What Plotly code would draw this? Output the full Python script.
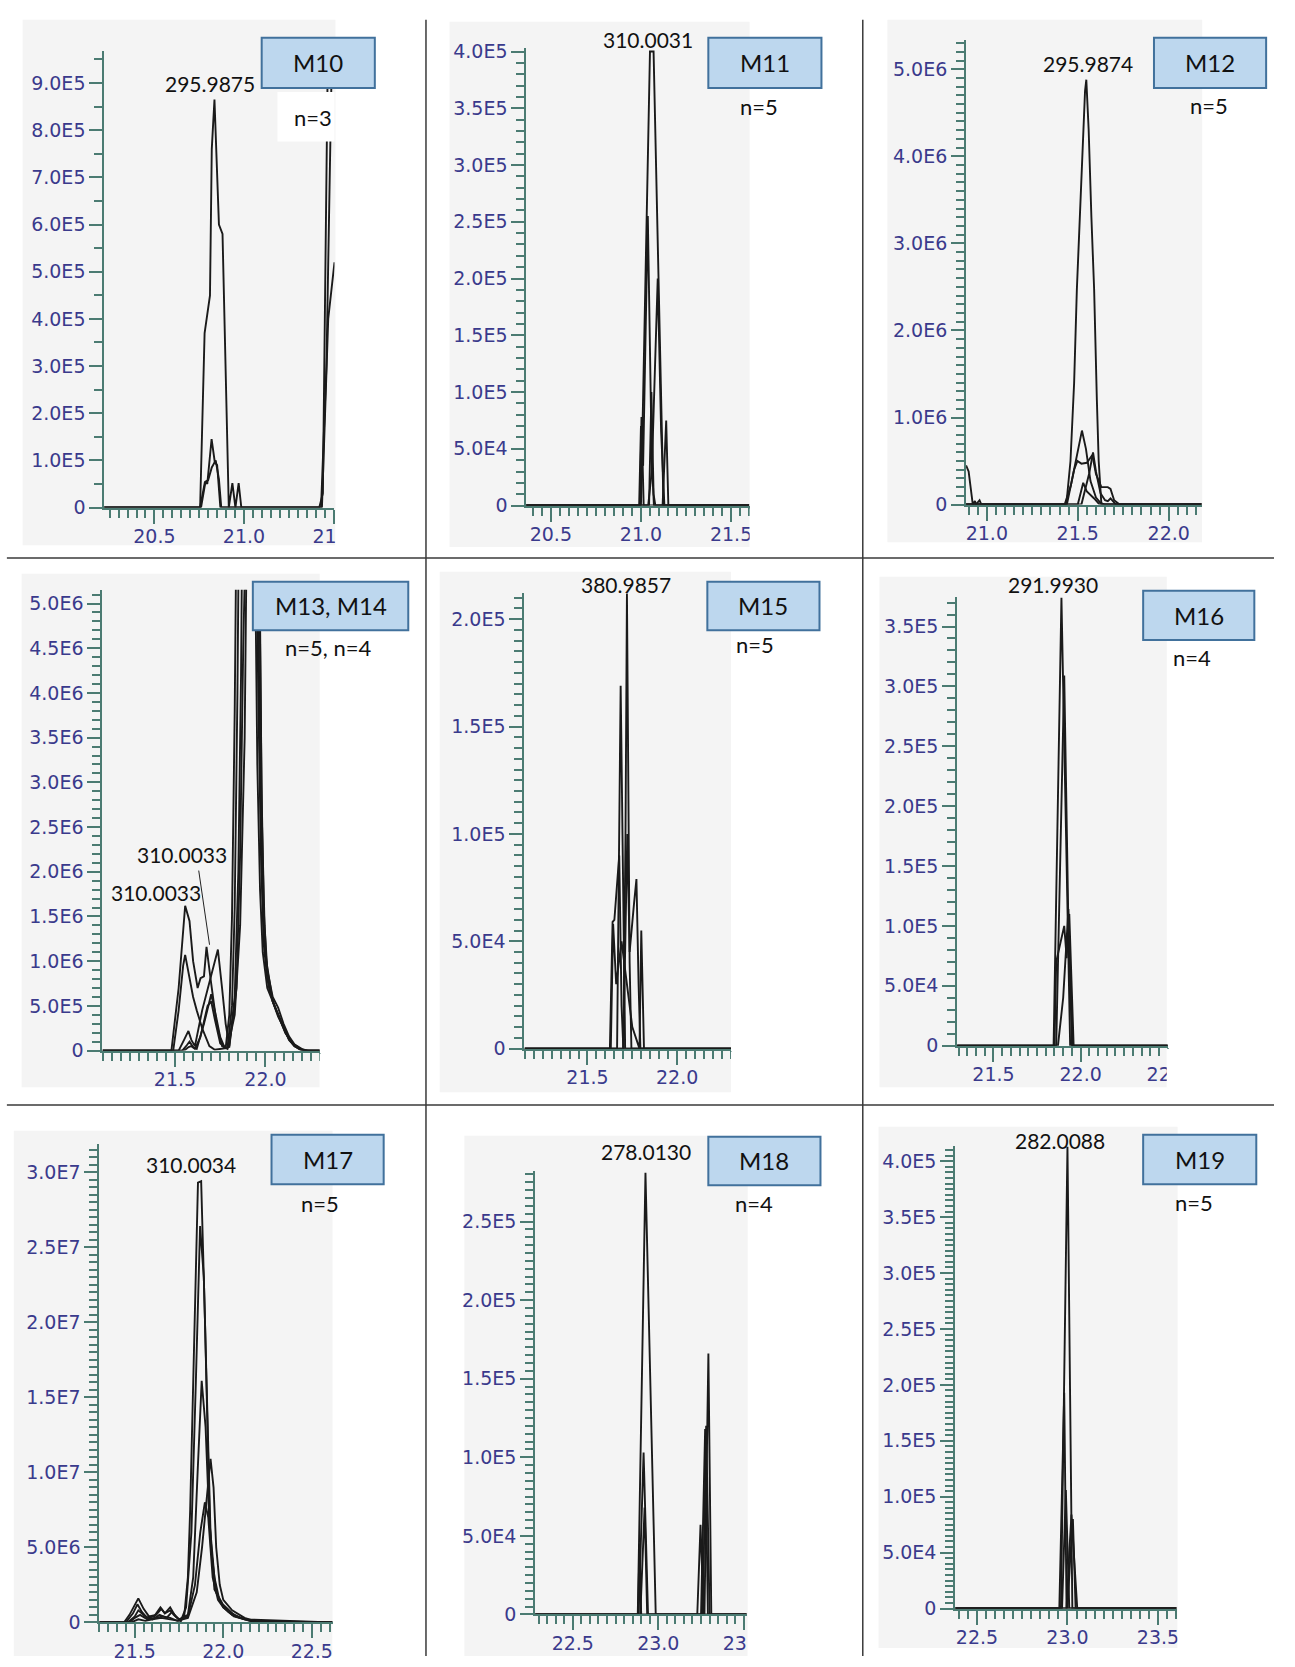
import plotly.graph_objects as go

W, H = 1295, 1667

# ======================= DATA =======================
# ---- M10 (n=3) ----
M10_RT = [
    [20.20, 20.755, 20.78, 20.81, 20.82, 20.835, 20.86, 20.88, 20.915, 20.935, 20.952, 20.97, 20.985, 21.42, 21.44, 21.475],
    [20.20, 20.755, 20.782, 20.795, 20.819, 20.837, 20.85, 20.868, 21.43, 21.46, 21.49, 21.505],
    [20.20, 20.76, 20.785, 20.80, 20.82, 20.842, 20.86, 20.873, 21.435, 21.47, 21.505],
]
M10_INT = [
    [0, 0, 3.7e5, 4.5e5, 7.6e5, 8.65e5, 6.0e5, 5.8e5, 0, 0.52e5, 0, 0.52e5, 0, 0, 0.3e5, 1.2e6],
    [0, 0, 0.55e5, 0.5e5, 1.45e5, 0.96e5, 0.9e5, 0, 0, 3.0e5, 9.5e5, 1.05e6],
    [0, 0, 0.55e5, 0.58e5, 0.85e5, 1.0e5, 0.6e5, 0, 0, 4.0e5, 5.2e5],
]
M10_XTICKS = [20.5, 21.0, 21.5]
M10_XLABELS = ["20.5", "21.0", "21.5"]
M10_YTICKS = [0, 1e5, 2e5, 3e5, 4e5, 5e5, 6e5, 7e5, 8e5, 9e5]
M10_YLABELS = ["0", "1.0E5", "2.0E5", "3.0E5", "4.0E5", "5.0E5", "6.0E5", "7.0E5", "8.0E5", "9.0E5"]

# ---- M11 (n=5) ----
M11_RT = [
    [20.36, 21.0, 21.05, 21.07, 21.125, 21.6],
    [20.36, 20.99, 21.0, 21.012, 21.038, 21.06, 21.072, 21.6],
    [20.36, 21.04, 21.06, 21.093, 21.112, 21.13, 21.6],
    [20.36, 20.995, 21.003, 21.015, 21.045, 21.058, 21.07, 21.08, 21.6],
    [20.36, 21.12, 21.14, 21.152, 21.6],
]
M11_INT = [
    [0, 0, 4.0e5, 4.0e5, 0, 0],
    [0, 0, 0.7e5, 0.35e5, 2.55e5, 0.4e5, 0, 0],
    [0, 0, 0.3e5, 2.0e5, 0.65e5, 0, 0],
    [0, 0, 0.78e5, 0, 0, 1.0e5, 0.1e5, 0, 0],
    [0, 0, 0.75e5, 0, 0],
]
M11_XTICKS = [20.5, 21.0, 21.5]
M11_XLABELS = ["20.5", "21.0", "21.5"]
M11_YTICKS = [0, 5e4, 1e5, 1.5e5, 2e5, 2.5e5, 3e5, 3.5e5, 4e5]
M11_YLABELS = ["0", "5.0E4", "1.0E5", "1.5E5", "2.0E5", "2.5E5", "3.0E5", "3.5E5", "4.0E5"]

# ---- M12 (n=5) ----
M12_RT = [
    [20.886, 20.9, 20.923, 20.935, 20.94, 20.95, 20.96, 20.97, 21.437, 21.46, 21.48, 21.495, 21.52, 21.54, 21.547, 21.56, 21.575, 21.59, 21.605, 21.615, 21.63, 22.18],
    [20.886, 21.428, 21.462, 21.498, 21.523, 21.545, 21.57, 21.60, 21.625, 21.65, 22.18],
    [20.886, 21.44, 21.48, 21.498, 21.52, 21.55, 21.58, 21.60, 21.63, 21.665, 21.68, 21.70, 21.73, 22.18],
    [20.886, 21.52, 21.563, 21.584, 21.60, 21.625, 21.65, 21.665, 21.68, 21.71, 22.18],
    [20.886, 21.50, 21.53, 21.55, 21.59, 21.62, 22.18],
]
M12_INT = [
    [0.45e6, 0.38e6, 0, 0.04e6, 0, 0.03e6, 0.05e6, 0, 0, 0.5e6, 1.4e6, 2.47e6, 3.8e6, 4.75e6, 4.88e6, 4.3e6, 3.3e6, 2.47e6, 1.2e6, 0.5e6, 0, 0],
    [0, 0, 0.22e6, 0.6e6, 0.85e6, 0.64e6, 0.27e6, 0.08e6, 0.02e6, 0, 0],
    [0, 0, 0.4e6, 0.5e6, 0.47e6, 0.48e6, 0.57e6, 0.35e6, 0.2e6, 0.2e6, 0.18e6, 0.05e6, 0, 0],
    [0, 0, 0.36e6, 0.6e6, 0.38e6, 0.13e6, 0.05e6, 0.04e6, 0.07e6, 0, 0],
    [0, 0, 0.25e6, 0.15e6, 0.07e6, 0, 0],
]
M12_XTICKS = [21.0, 21.5, 22.0]
M12_XLABELS = ["21.0", "21.5", "22.0"]
M12_YTICKS = [0, 1e6, 2e6, 3e6, 4e6, 5e6]
M12_YLABELS = ["0", "1.0E6", "2.0E6", "3.0E6", "4.0E6", "5.0E6"]

# ---- M13, M14 (n=5, n=4) ----
M13_RT = [
    [21.10, 21.48, 21.52, 21.545, 21.556, 21.58, 21.60, 21.625, 21.641, 21.66, 21.674, 21.70, 21.73, 21.76, 21.78, 21.80, 21.815, 21.83, 21.84, 21.90, 21.945, 21.96, 21.975, 21.99, 22.01, 22.04, 22.07, 22.10, 22.13, 22.16, 22.20, 22.30],
    [21.10, 21.49, 21.52, 21.545, 21.556, 21.575, 21.60, 21.62, 21.65, 21.69, 21.72, 21.79, 21.815, 21.83, 21.845, 21.858, 21.91, 21.955, 21.968, 21.98, 21.995, 22.02, 22.05, 22.08, 22.11, 22.15, 22.19, 22.22, 22.30],
    [21.10, 21.52, 21.55, 21.574, 21.59, 21.61, 21.65, 21.70, 21.737, 21.76, 21.78, 21.80, 21.83, 21.85, 21.865, 21.878, 21.93, 21.965, 21.978, 21.99, 22.005, 22.04, 22.07, 22.10, 22.13, 22.16, 22.20, 22.24, 22.30],
    [21.10, 21.54, 21.565, 21.58, 21.60, 21.62, 21.66, 21.70, 21.725, 21.75, 21.775, 21.80, 21.84, 21.86, 21.877, 21.89, 21.92, 21.94, 21.955, 21.97, 21.985, 22.01, 22.05, 22.08, 22.11, 22.14, 22.18, 22.22, 22.30],
    [21.10, 21.55, 21.575, 21.59, 21.61, 21.64, 21.68, 21.70, 21.72, 21.75, 21.79, 21.83, 21.86, 21.885, 21.90, 21.94, 21.968, 21.98, 21.995, 22.01, 22.04, 22.07, 22.10, 22.13, 22.16, 22.20, 22.23, 22.30],
]
M13_INT = [
    [0, 0, 0.7e6, 1.4e6, 1.62e6, 1.45e6, 1.0e6, 0.7e6, 0.81e6, 0.83e6, 1.16e6, 0.75e6, 0.3e6, 0.05e6, 0.03e6, 0.4e6, 1.5e6, 3.8e6, 6.0e6, 9.0e6, 6.5e6, 4.0e6, 2.2e6, 1.2e6, 0.8e6, 0.55e6, 0.4e6, 0.25e6, 0.12e6, 0.05e6, 0, 0],
    [0, 0, 0.45e6, 0.95e6, 1.07e6, 0.85e6, 0.6e6, 0.45e6, 0.25e6, 0.05e6, 0.01e6, 0.03e6, 0.5e6, 1.6e6, 4.0e6, 7.0e6, 9.5e6, 6.0e6, 3.5e6, 2.0e6, 1.2e6, 0.7e6, 0.5e6, 0.35e6, 0.2e6, 0.08e6, 0.02e6, 0, 0],
    [0, 0, 0.12e6, 0.22e6, 0.12e6, 0.05e6, 0.45e6, 0.85e6, 1.13e6, 0.7e6, 0.3e6, 0.05e6, 0.6e6, 2.0e6, 4.2e6, 7.5e6, 9.0e6, 6.0e6, 3.0e6, 1.6e6, 1.0e6, 0.55e6, 0.38e6, 0.26e6, 0.13e6, 0.05e6, 0.01e6, 0, 0],
    [0, 0, 0.06e6, 0.1e6, 0.04e6, 0.02e6, 0.3e6, 0.63e6, 0.4e6, 0.15e6, 0.03e6, 0.04e6, 0.7e6, 2.2e6, 4.5e6, 7.5e6, 8.5e6, 6.0e6, 3.2e6, 1.8e6, 1.1e6, 0.7e6, 0.5e6, 0.33e6, 0.2e6, 0.1e6, 0.03e6, 0, 0],
    [0, 0, 0.04e6, 0.05e6, 0.02e6, 0.15e6, 0.5e6, 0.55e6, 0.35e6, 0.08e6, 0.02e6, 0.4e6, 1.4e6, 3.5e6, 6.5e6, 8.0e6, 5.0e6, 2.6e6, 1.4e6, 0.9e6, 0.6e6, 0.48e6, 0.3e6, 0.16e6, 0.07e6, 0.02e6, 0, 0],
]
M13_XTICKS = [21.5, 22.0]
M13_XLABELS = ["21.5", "22.0"]
M13_YTICKS = [0, 5e5, 1e6, 1.5e6, 2e6, 2.5e6, 3e6, 3.5e6, 4e6, 4.5e6, 5e6]
M13_YLABELS = ["0", "5.0E5", "1.0E6", "1.5E6", "2.0E6", "2.5E6", "3.0E6", "3.5E6", "4.0E6", "4.5E6", "5.0E6"]

# ---- M15 (n=5) ----
M15_RT = [
    [21.15, 21.70, 21.712, 21.72, 21.735, 21.745, 22.30],
    [21.15, 21.665, 21.685, 21.70, 21.71, 22.30],
    [21.15, 21.625, 21.64, 21.65, 21.677, 21.69, 21.70, 22.30],
    [21.15, 21.70, 21.722, 21.735, 21.76, 21.773, 21.785, 21.795, 22.30],
    [21.15, 21.63, 21.643, 21.66, 21.69, 21.72, 21.75, 21.79, 21.80, 21.815, 22.30],
]
M15_INT = [
    [0, 0, 1.0e5, 2.12e5, 0.4e5, 0, 0],
    [0, 0, 1.69e5, 0.5e5, 0, 0],
    [0, 0, 0.59e5, 0.6e5, 0.9e5, 0.2e5, 0, 0],
    [0, 0, 1.0e5, 0.45e5, 0.68e5, 0.79e5, 0.3e5, 0, 0],
    [0, 0, 0.58e5, 0.3e5, 0.5e5, 0.3e5, 0.1e5, 0, 0.55e5, 0, 0],
]
M15_XTICKS = [21.5, 22.0]
M15_XLABELS = ["21.5", "22.0"]
M15_YTICKS = [0, 5e4, 1e5, 1.5e5, 2e5]
M15_YLABELS = ["0", "5.0E4", "1.0E5", "1.5E5", "2.0E5"]

# ---- M16 (n=4) ----
M16_RT = [
    [21.29, 21.845, 21.89, 21.915, 21.94, 22.5],
    [21.29, 21.86, 21.906, 21.93, 21.955, 22.5],
    [21.29, 21.85, 21.86, 21.875, 21.89, 21.906, 21.92, 21.935, 21.96, 22.5],
    [21.29, 21.87, 21.90, 21.93, 21.95, 22.5],
]
M16_INT = [
    [0, 0, 3.74e5, 1.8e5, 0, 0],
    [0, 0, 3.09e5, 1.0e5, 0, 0],
    [0, 0, 0.7e5, 0.8e5, 0.9e5, 1.0e5, 0.73e5, 1.1e5, 0, 0],
    [0, 0, 0.4e5, 1.14e5, 0, 0],
]
M16_XTICKS = [21.5, 22.0, 22.5]
M16_XLABELS = ["21.5", "22.0", "22.5"]
M16_YTICKS = [0, 5e4, 1e5, 1.5e5, 2e5, 2.5e5, 3e5, 3.5e5]
M16_YLABELS = ["0", "5.0E4", "1.0E5", "1.5E5", "2.0E5", "2.5E5", "3.0E5", "3.5E5"]

# ---- M17 (n=5) ----
M17_RT = [
    [21.30, 21.44, 21.47, 21.50, 21.52, 21.55, 21.58, 21.62, 21.65, 21.67, 21.70, 21.73, 21.76, 21.78, 21.80, 21.813, 21.84, 21.857, 21.875, 21.896, 21.924, 21.95, 21.998, 22.07, 22.18, 22.617],
    [21.30, 21.45, 21.49, 21.515, 21.54, 21.57, 21.61, 21.645, 21.67, 21.70, 21.72, 21.76, 21.79, 21.82, 21.845, 21.869, 21.89, 21.91, 21.93, 21.96, 22.0, 22.06, 22.15, 22.617],
    [21.30, 21.46, 21.50, 21.52, 21.56, 21.60, 21.64, 21.68, 21.71, 21.75, 21.80, 21.83, 21.855, 21.878, 21.90, 21.92, 21.95, 21.98, 22.03, 22.10, 22.20, 22.617],
    [21.30, 21.47, 21.50, 21.53, 21.57, 21.62, 21.66, 21.70, 21.74, 21.80, 21.85, 21.88, 21.905, 21.928, 21.945, 21.96, 21.98, 22.0, 22.05, 22.12, 22.20, 22.617],
    [21.30, 21.48, 21.52, 21.56, 21.60, 21.65, 21.70, 21.75, 21.80, 21.84, 21.87, 21.896, 21.915, 21.94, 21.97, 22.0, 22.05, 22.12, 22.617],
]
M17_INT = [
    [0, 0, 0.05e7, 0.12e7, 0.16e7, 0.09e7, 0.04e7, 0.05e7, 0.09e7, 0.06e7, 0.10e7, 0.04e7, 0.01e7, 0.05e7, 0.3e7, 0.75e7, 2.04e7, 2.93e7, 2.94e7, 2.04e7, 0.64e7, 0.22e7, 0.12e7, 0.04e7, 0, 0],
    [0, 0, 0.06e7, 0.12e7, 0.07e7, 0.03e7, 0.04e7, 0.10e7, 0.06e7, 0.08e7, 0.05e7, 0.01e7, 0.1e7, 0.6e7, 1.6e7, 2.64e7, 2.3e7, 1.3e7, 0.5e7, 0.2e7, 0.1e7, 0.04e7, 0.01e7, 0],
    [0, 0, 0.04e7, 0.08e7, 0.04e7, 0.02e7, 0.05e7, 0.03e7, 0.07e7, 0.02e7, 0.05e7, 0.3e7, 1.0e7, 1.61e7, 1.3e7, 0.7e7, 0.3e7, 0.14e7, 0.07e7, 0.03e7, 0, 0],
    [0, 0, 0.03e7, 0.05e7, 0.02e7, 0.03e7, 0.04e7, 0.03e7, 0.01e7, 0.03e7, 0.2e7, 0.5e7, 0.8e7, 1.09e7, 0.9e7, 0.5e7, 0.25e7, 0.15e7, 0.08e7, 0.03e7, 0, 0],
    [0, 0, 0.02e7, 0.01e7, 0.02e7, 0.03e7, 0.02e7, 0.01e7, 0.04e7, 0.25e7, 0.6e7, 0.8e7, 0.7e7, 0.3e7, 0.15e7, 0.1e7, 0.05e7, 0.02e7, 0],
]
M17_XTICKS = [21.5, 22.0, 22.5]
M17_XLABELS = ["21.5", "22.0", "22.5"]
M17_YTICKS = [0, 5e6, 1e7, 1.5e7, 2e7, 2.5e7, 3e7]
M17_YLABELS = ["0", "5.0E6", "1.0E7", "1.5E7", "2.0E7", "2.5E7", "3.0E7"]

# ---- M18 (n=4) ----
M18_RT = [
    [22.28, 22.88, 22.925, 22.985, 23.27, 23.293, 23.31, 23.517],
    [22.28, 22.885, 22.914, 22.925, 22.94, 23.25, 23.274, 23.29, 23.517],
    [22.28, 22.895, 22.92, 22.935, 23.228, 23.247, 23.265, 23.517],
    [22.28, 22.882, 22.89, 22.90, 23.26, 23.28, 23.30, 23.517],
]
M18_INT = [
    [0, 0, 2.81e5, 0, 0, 1.66e5, 0, 0],
    [0, 0, 1.03e5, 0.6e5, 0, 0, 1.18e5, 0, 0],
    [0, 0, 0.68e5, 0, 0, 0.57e5, 0, 0],
    [0, 0, 0.45e5, 0, 0, 1.2e5, 0, 0],
]
M18_XTICKS = [22.5, 23.0, 23.5]
M18_XLABELS = ["22.5", "23.0", "23.5"]
M18_YTICKS = [0, 5e4, 1e5, 1.5e5, 2e5, 2.5e5]
M18_YLABELS = ["0", "5.0E4", "1.0E5", "1.5E5", "2.0E5", "2.5E5"]

# ---- M19 (n=5) ----
M19_RT = [
    [22.38, 22.964, 23.0, 23.027, 23.603],
    [22.38, 22.955, 22.982, 22.995, 23.603],
    [22.38, 22.97, 22.991, 23.0, 23.01, 23.603],
    [22.38, 22.995, 23.01, 23.018, 23.022, 23.054, 23.603],
    [22.38, 23.0, 23.015, 23.03, 23.045, 23.603],
]
M19_INT = [
    [0, 0, 4.13e5, 0, 0],
    [0, 0, 1.93e5, 0, 0],
    [0, 0, 1.06e5, 0.5e5, 0, 0],
    [0, 0, 0.5e5, 0.84e5, 0.84e5, 0, 0],
    [0, 0, 0.44e5, 0.8e5, 0, 0],
]
M19_XTICKS = [22.5, 23.0, 23.5]
M19_XLABELS = ["22.5", "23.0", "23.5"]
M19_YTICKS = [0, 5e4, 1e5, 1.5e5, 2e5, 2.5e5, 3e5, 3.5e5, 4e5]
M19_YLABELS = ["0", "5.0E4", "1.0E5", "1.5E5", "2.0E5", "2.5E5", "3.0E5", "3.5E5", "4.0E5"]

# ======================= LAYOUT SPEC (pixels) =======================
GRAY = "#f4f4f4"
AX = "#4b7b72"
TICKC = "#3a3a8c"
LINEC = "#1a1a1a"
BOXFILL = "#bdd7ee"
BOXLINE = "#41719c"

PANELS = [
    dict(rt=M10_RT, it=M10_INT, xt=M10_XTICKS, xl=M10_XLABELS, yt=M10_YTICKS, yl=M10_YLABELS,
         gray=(23, 13, 341, 544), axis=(106, 340, 506, 44), xr=(20.22, 21.505), ytop=9.69e5, ymin=5e4,
         box=(266, 31, 381, 82, "M10"), n=(318, 112, "n=3"), mz=[(213, 77, "295.9875")], clipr=432),
    dict(rt=M11_RT, it=M11_INT, xt=M11_XTICKS, xl=M11_XLABELS, yt=M11_YTICKS, yl=M11_YLABELS,
         gray=(457, 15, 762, 546), axis=(535, 762, 504, 41), xr=(20.364, 21.603), ytop=4.035e5, ymin=1e4,
         box=(720, 31, 835, 82, "M11"), n=(772, 101, "n=5"), mz=[(659, 33, "310.0031")], clipr=875),
    dict(rt=M12_RT, it=M12_INT, xt=M12_XTICKS, xl=M12_XLABELS, yt=M12_YTICKS, yl=M12_YLABELS,
         gray=(902, 13, 1222, 541), axis=(982, 1222, 503, 33), xr=(20.886, 22.184), ytop=5.34e6, ymin=1e5,
         box=(1173, 31, 1287, 82, "M12"), n=(1229, 100, "n=5"), mz=[(1106, 57, "295.9874")], clipr=1295),
    dict(rt=M13_RT, it=M13_INT, xt=M13_XTICKS, xl=M13_XLABELS, yt=M13_YTICKS, yl=M13_YLABELS,
         gray=(22, 573, 325, 1092), axis=(104, 325, 1055, 589), xr=(21.098, 22.30), ytop=5.155e6, ymin=1e5,
         box=(257, 581, 415, 630, "M13, M14"), n=(333, 647, "n=5, n=4"),
         mz=[(185, 857, "310.0033"), (159, 895, "310.0033")], clipr=432),
    dict(rt=M15_RT, it=M15_INT, xt=M15_XTICKS, xl=M15_XLABELS, yt=M15_YTICKS, yl=M15_YLABELS,
         gray=(447, 571, 743, 1097), axis=(533, 743, 1053, 592), xr=(21.148, 22.30), ytop=2.124e5, ymin=5e3,
         box=(719, 581, 833, 630, "M15"), n=(767, 644, "n=5"), mz=[(636, 584, "380.9857")], clipr=875),
    dict(rt=M16_RT, it=M16_INT, xt=M16_XTICKS, xl=M16_XLABELS, yt=M16_YTICKS, yl=M16_YLABELS,
         gray=(894, 576, 1186, 1092), axis=(973, 1187, 1050, 596), xr=(21.292, 22.50), ytop=3.75e5, ymin=1e4,
         box=(1162, 590, 1275, 640, "M16"), n=(1212, 658, "n=4"), mz=[(1070, 584, "291.9930")], clipr=1295),
    dict(rt=M17_RT, it=M17_INT, xt=M17_XTICKS, xl=M17_XLABELS, yt=M17_YTICKS, yl=M17_YLABELS,
         gray=(14, 1136, 338, 1667), axis=(101, 338, 1633, 1149), xr=(21.30, 22.617), ytop=3.19e7, ymin=5e5,
         box=(276, 1140, 390, 1190, "M17"), n=(325, 1210, "n=5"), mz=[(194, 1170, "310.0034")], clipr=432),
    dict(rt=M18_RT, it=M18_INT, xt=M18_XTICKS, xl=M18_XLABELS, yt=M18_YTICKS, yl=M18_YLABELS,
         gray=(472, 1141, 760, 1667), axis=(544, 759, 1625, 1177), xr=(22.28, 23.517), ytop=2.82e5, ymin=5e3,
         box=(720, 1142, 834, 1191, "M18"), n=(766, 1210, "n=4"), mz=[(657, 1157, "278.0130")], clipr=875),
    dict(rt=M19_RT, it=M19_INT, xt=M19_XTICKS, xl=M19_XLABELS, yt=M19_YTICKS, yl=M19_YLABELS,
         gray=(893, 1132, 1197, 1659), axis=(971, 1196, 1619, 1151), xr=(22.38, 23.603), ytop=4.14e5, ymin=5e3,
         box=(1162, 1140, 1277, 1190, "M19"), n=(1214, 1209, "n=5"), mz=[(1077, 1146, "282.0088")], clipr=1295),
]


def fx(px):
    return px / W


def fy(py):
    return 1 - py / H


fig = go.Figure()
shapes_below, shapes_above, annotations = [], [], []
axes = {}
TF = dict(family="DejaVu Sans", size=19, color=TICKC)

for i, p in enumerate(PANELS, start=1):
    suf = "" if i == 1 else str(i)
    xref, yref = "x" + suf, "y" + suf
    gx0, gy0, gx1, gy1 = p["gray"]
    shapes_below.append(dict(type="rect", xref="paper", yref="paper", x0=fx(gx0), x1=fx(gx1),
                             y0=fy(gy1), y1=fy(gy0), fillcolor=GRAY, line=dict(width=0), layer="below"))
    axl, axr, y0, yt = p["axis"]
    axes["xaxis" + suf] = dict(
        domain=[fx(axl), fx(axr)], range=list(p["xr"]), anchor=yref,
        showline=True, linecolor=AX, linewidth=2, ticks="outside", ticklen=14, tickwidth=2, tickcolor=AX,
        tickmode="array", tickvals=p["xt"], ticktext=p["xl"], tickfont=TF, ticklabelstandoff=-3,
        showgrid=False, zeroline=False, fixedrange=True,
        minor=dict(ticks="outside", ticklen=8, tickwidth=2, tickcolor=AX, tickmode="linear", tick0=0, dtick=0.05,
                   showgrid=False))
    axes["yaxis" + suf] = dict(
        domain=[fy(y0), fy(yt)], range=[0, p["ytop"]], anchor=xref,
        showline=True, linecolor=AX, linewidth=2, ticks="outside", ticklen=13, tickwidth=2, tickcolor=AX,
        tickmode="array", tickvals=p["yt"], ticktext=p["yl"], tickfont=TF, ticklabelstandoff=0,
        showgrid=False, zeroline=False, fixedrange=True,
        minor=dict(ticks="outside", ticklen=8, tickwidth=2, tickcolor=AX, tickmode="linear", tick0=0,
                   dtick=p["ymin"], showgrid=False))
    for rt, it in zip(p["rt"], p["it"]):
        fig.add_trace(go.Scatter(x=rt, y=it, mode="lines", line=dict(color=LINEC, width=1.9),
                                 xaxis=xref, yaxis=yref, showlegend=False, hoverinfo="skip"))
    # white area that crops tick labels beyond the grey panel
    shapes_above.append(dict(type="rect", xref="paper", yref="paper", x0=fx(gx1), x1=fx(p["clipr"]),
                             y0=fy(y0 + 48), y1=fy(y0 + 3), fillcolor="white", line=dict(width=0), layer="above"))
    bx0, by0, bx1, by1, btxt = p["box"]
    shapes_above.append(dict(type="rect", xref="paper", yref="paper", x0=fx(bx0), x1=fx(bx1),
                             y0=fy(by1), y1=fy(by0), fillcolor=BOXFILL, line=dict(color=BOXLINE, width=2),
                             layer="above"))
    annotations.append(dict(xref="paper", yref="paper", x=fx((bx0 + bx1) / 2), y=fy((by0 + by1) / 2),
                            text=btxt, showarrow=False, xanchor="center", yanchor="middle",
                            font=dict(family="Lato", size=24, color="#111111")))
    nx, ny, ntxt = p["n"]
    annotations.append(dict(xref="paper", yref="paper", x=fx(nx), y=fy(ny), text=ntxt, showarrow=False,
                            xanchor="center", yanchor="middle", font=dict(family="Lato", size=22, color="#111111")))
    for mx, my, mtxt in p["mz"]:
        annotations.append(dict(xref="paper", yref="paper", x=fx(mx), y=fy(my), text=mtxt, showarrow=False,
                                xanchor="center", yanchor="middle",
                                font=dict(family="Lato", size=21, color="#111111")))

# white box behind "n=3" in M10 panel (hides the curve there)
shapes_above.insert(0, dict(type="rect", xref="paper", yref="paper", x0=fx(282), x1=fx(340),
                            y0=fy(136), y1=fy(86), fillcolor="white", line=dict(width=0), layer="above"))
# leader line for the second 310.0033 label
shapes_above.append(dict(type="line", xref="paper", yref="paper", x0=fx(202), y0=fy(873), x1=fx(213), y1=fy(948),
                         line=dict(color="#222222", width=1), layer="above"))

# panel dividers
DIV = dict(color="#3a3a3a", width=1.5)
for vx in (433, 877):
    shapes_above.append(dict(type="line", xref="paper", yref="paper", x0=fx(vx), x1=fx(vx), y0=fy(13), y1=fy(H),
                             line=DIV, layer="above"))
for hy in (557, 1110):
    shapes_above.append(dict(type="line", xref="paper", yref="paper", x0=fx(7), x1=fx(W), y0=fy(hy), y1=fy(hy),
                             line=DIV, layer="above"))

fig.update_layout(
    width=W, height=H, autosize=False,
    margin=dict(l=0, r=0, t=0, b=0, pad=0),
    paper_bgcolor="white", plot_bgcolor="rgba(0,0,0,0)",
    showlegend=False,
    shapes=shapes_below + shapes_above,
    annotations=annotations,
    **axes,
)

fig.write_html("out.html",
               config={"displayModeBar": False, "responsive": False},
               post_script="document.body.style.margin='0';document.body.style.padding='0';"
                           "document.body.style.overflow='hidden';")
